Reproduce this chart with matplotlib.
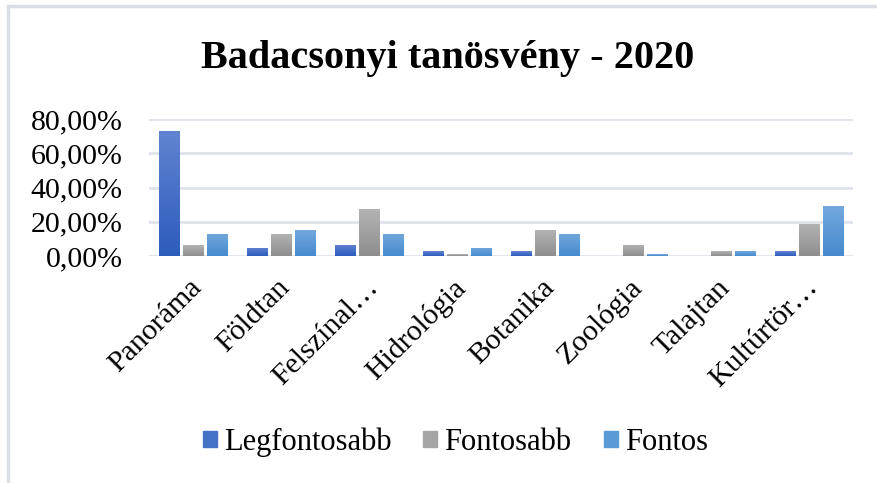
import matplotlib.pyplot as plt
import numpy as np
from matplotlib.colors import LinearSegmentedColormap
from matplotlib.lines import Line2D
from matplotlib.ticker import FuncFormatter
from matplotlib.transforms import ScaledTranslation

plt.rcParams['font.family'] = ['Liberation Serif', 'DejaVu Serif']

# Data
categories = ['Panoráma', 'Földtan', 'Felszínal…', 'Hidrológia', 'Botanika',
              'Zoológia', 'Talajtan', 'Kultúrtör…']
legfontosabb = [0.731, 0.049, 0.066, 0.027, 0.027, 0.0, 0.0, 0.027]
fontosabb = [0.064, 0.130, 0.272, 0.010, 0.150, 0.066, 0.027, 0.189]
fontos = [0.130, 0.150, 0.130, 0.049, 0.130, 0.010, 0.027, 0.290]
series_names = ['Legfontosabb', 'Fontosabb', 'Fontos']
yticks = [0.0, 0.2, 0.4, 0.6, 0.8]

# (top, bottom, legend) colours for each series
colours = [('#6184d2', '#2d5cbc', '#4472c4'),
           ('#b3b3b3', '#8e8e8e', '#a5a5a5'),
           ('#73a8de', '#468ace', '#5b9bd5')]

fig = plt.figure(figsize=(8.77, 4.83), dpi=100)
ax = fig.add_axes([0.170, 0.470, 0.8027, 0.2836])

x = np.arange(len(categories))
width = 0.235
step = 0.273
grad = np.linspace(0, 1, 64).reshape(-1, 1)

handles = []
for i, (vals, name) in enumerate(zip([legfontosabb, fontosabb, fontos], series_names)):
    top, bottom, mid = colours[i]
    cmap = LinearSegmentedColormap.from_list(name, [top, bottom])
    bars = ax.bar(x + (i - 1) * step, vals, width, color='none', edgecolor='none', zorder=3)
    for b in bars:
        h = b.get_height()
        if h <= 0:
            continue
        x0 = b.get_x()
        im = ax.imshow(grad, cmap=cmap, aspect='auto', zorder=3,
                       extent=[x0, x0 + b.get_width(), 0, h], origin='upper')
        im.set_clip_path(b)
    handles.append(plt.Rectangle((0, 0), 1, 1, color=mid))

ax.set_xlim(-0.5, len(categories) - 0.5)
ax.set_ylim(0, 0.8)
ax.set_yticks(yticks)
ax.yaxis.set_major_formatter(FuncFormatter(lambda v, p: f'{v * 100:.2f}%'.replace('.', ',')))
ax.grid(axis='y', color='#dfe3ea', linewidth=2, zorder=0)
ax.set_axisbelow(True)
for s in ax.spines.values():
    s.set_visible(False)
ax.tick_params(axis='both', length=0, labelsize=21.5, colors='black')
ax.tick_params(axis='y', pad=19)
ax.set_xticks(x)
ax.set_xticklabels(categories, rotation=45, ha='right', va='center', rotation_mode='anchor')
ax.tick_params(axis='x', pad=20)
shift = ScaledTranslation(5 / 100, 0, fig.dpi_scale_trans)
for lab in ax.get_xticklabels():
    lab.set_transform(lab.get_transform() + shift)

fig.text(0.51, 0.879, 'Badacsonyi tanösvény - 2020', ha='center', va='center',
         fontsize=29, fontweight='bold')

fig.legend(handles, series_names, loc='center', bbox_to_anchor=(0.519, 0.085), ncol=3,
           frameon=False, fontsize=22, handlelength=0.46, handleheight=0.46,
           handletextpad=0.23, columnspacing=1.05)

# light frame on the top and left edge
fig.add_artist(Line2D([8 / 877, 1], [1 - 6 / 483] * 2, color='#dadfe6', lw=2.5))
fig.add_artist(Line2D([8 / 877] * 2, [0, 1 - 6 / 483], color='#dadfe6', lw=2.5))

fig.savefig('out.png', dpi=100)
